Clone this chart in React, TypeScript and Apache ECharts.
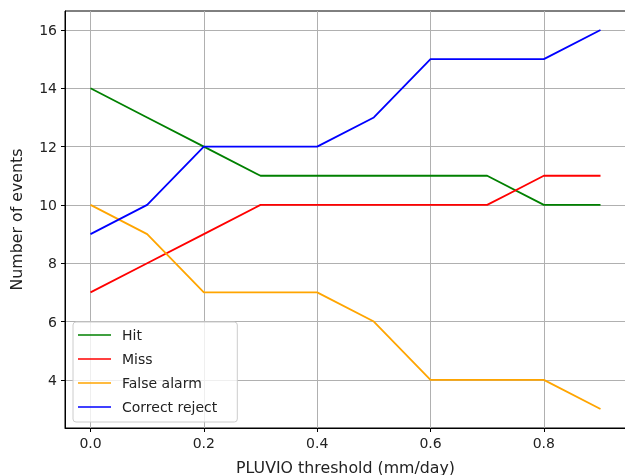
import React, { useEffect, useRef } from "react";
import * as echarts from "echarts";

const thresholds = [0.0, 0.1, 0.2, 0.3, 0.4, 0.5, 0.6, 0.7, 0.8, 0.9];
const hit = [14, 13, 12, 11, 11, 11, 11, 11, 10, 10];
const miss = [7, 8, 9, 10, 10, 10, 10, 10, 11, 11];
const falseAlarm = [10, 9, 7, 7, 7, 6, 4, 4, 4, 3];
const correctReject = [9, 10, 12, 12, 12, 13, 15, 15, 15, 16];
const xTicks = [0.0, 0.2, 0.4, 0.6, 0.8];
const yTicks = [4, 6, 8, 10, 12, 14, 16];

const seriesNames = ["Hit", "Miss", "False alarm", "Correct reject"];
const seriesValues = [hit, miss, falseAlarm, correctReject];
const seriesColors = ["#008000", "#ff0000", "#ffa500", "#0000ff"];

const FONT = "DejaVu Sans";

export default function App() {
  const ref = useRef<HTMLDivElement>(null);
  useEffect(() => {
    if (!ref.current) return;
    const chart = echarts.init(ref.current, null, { renderer: "svg" });
    chart.setOption({
      animation: false,
      textStyle: { fontFamily: FONT },
      grid: {
        left: 65,
        top: 11,
        right: -1,
        bottom: 47,
        outerBoundsMode: "none",
        containLabel: false,
        show: true,
        borderColor: "#000",
        borderWidth: 1,
        backgroundColor: "transparent",
      },
      legend: {
        orient: "vertical",
        left: 73,
        top: 322,
        data: seriesNames,
        icon: "path://M0,0H33V1.7H0Z",
        itemWidth: 33,
        itemHeight: 14,
        itemGap: 10,
        padding: [6, 20, 8, 5],
        backgroundColor: "rgba(255,255,255,0.8)",
        borderColor: "#cccccc",
        borderWidth: 1,
        borderRadius: 3,
        textStyle: { fontFamily: FONT, fontSize: 14, color: "#222", padding: [0, 0, 0, 6] },
      },
      xAxis: {
        type: "value",
        min: -0.045,
        max: 0.945,
        name: "PLUVIO threshold (mm/day)",
        nameLocation: "middle",
        nameGap: 31,
        nameTextStyle: { fontFamily: FONT, fontSize: 15.8, color: "#222" },
        axisLine: { show: true, onZero: false, lineStyle: { color: "#000", width: 1 } },
        axisTick: {
          show: true,
          inside: false,
          length: 4,
          customValues: xTicks,
          lineStyle: { color: "#000" },
        },
        axisLabel: {
          customValues: xTicks,
          formatter: (v: number) => v.toFixed(1),
          fontFamily: FONT,
          fontSize: 14,
          color: "#222",
          margin: 8,
        },
        splitLine: { show: true, lineStyle: { color: "#b0b0b0", width: 1 } },
      },
      yAxis: {
        type: "value",
        min: 2.35,
        max: 16.65,
        name: "Number of events",
        nameLocation: "middle",
        nameGap: 41,
        nameTextStyle: { fontFamily: FONT, fontSize: 15.8, color: "#222" },
        axisLine: { show: true, onZero: false, lineStyle: { color: "#000", width: 1 } },
        axisTick: {
          show: true,
          inside: false,
          length: 4,
          customValues: yTicks,
          lineStyle: { color: "#000" },
        },
        axisLabel: {
          customValues: yTicks,
          formatter: (v: number) => String(Math.round(v)),
          fontFamily: FONT,
          fontSize: 14,
          color: "#222",
          margin: 8,
        },
        splitLine: { show: true, lineStyle: { color: "#b0b0b0", width: 1 } },
      },
      series: seriesNames.map((name, i) => ({
        name,
        type: "line",
        symbol: "none",
        showSymbol: false,
        data: thresholds.map((t, j) => [t, seriesValues[i][j]]),
        lineStyle: { color: seriesColors[i], width: 1.8 },
        itemStyle: { color: seriesColors[i] },
      })),
    });
    return () => chart.dispose();
  }, []);
  return <div ref={ref} style={{ width: 625, height: 475, position: "fixed", left: 0, top: 0 }} />;
}
